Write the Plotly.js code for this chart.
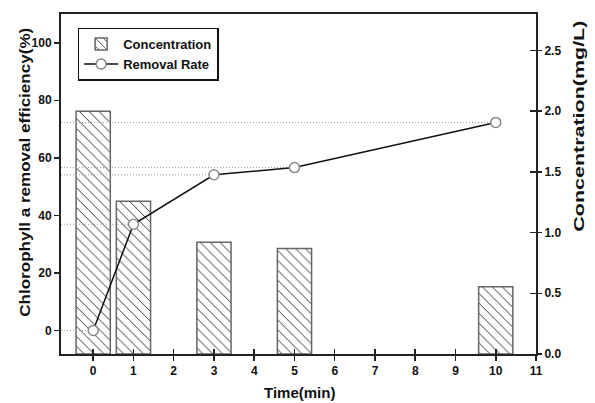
<!DOCTYPE html>
<html>
<head>
<meta charset="utf-8">
<script src="https://cdn.plot.ly/plotly-3.0.1.min.js"></script>
<style>html,body{margin:0;padding:0;background:#fff;}#chart{width:595px;height:403px;}</style>
</head>
<body>
<div id="chart"></div>
<script>
// Data
const times = [0, 1, 3, 5, 10];
const concentration = [2.0, 1.258, 0.921, 0.869, 0.553];      // mg/L (right axis)
const removalRate = [0, 36.9, 54.1, 56.6, 72.3];               // % (left axis)
const xTicks = [0, 1, 2, 3, 4, 5, 6, 7, 8, 9, 10, 11];
const leftTicks = [0, 20, 40, 60, 80, 100];
const rightTicks = [0.0, 0.5, 1.0, 1.5, 2.0, 2.5];

const xRange = [-0.8, 11];
const rightRange = [0, 2.8];
const font = {family: 'Arial, "Liberation Sans", sans-serif', size: 12, color: '#111', weight: 700};

// drop lines from left axis to each removal-rate point
const dropX = [], dropY = [];
times.forEach((t, i) => { dropX.push(xRange[0], t, null); dropY.push(removalRate[i], removalRate[i], null); });

const traces = [
  {
    type: 'bar', name: 'Concentration', x: times, y: concentration,
    xaxis: 'x', yaxis: 'y', width: 0.85,
    marker: {color: '#fff', line: {color: '#666', width: 1.5},
      pattern: {shape: '\\', fgcolor: '#333', bgcolor: '#fff', size: 7, solidity: 0.14}},
    showlegend: true
  },
  {
    type: 'scatter', mode: 'lines', x: dropX, y: dropY, xaxis: 'x', yaxis: 'y2',
    line: {color: '#9a9a9a', width: 1, dash: '1px,2px'}, showlegend: false, hoverinfo: 'skip'
  },
  {
    type: 'scatter', mode: 'lines+markers', name: 'Removal Rate', x: times, y: removalRate,
    xaxis: 'x', yaxis: 'y2',
    line: {color: '#111', width: 1.5},
    marker: {symbol: 'circle', size: 10, color: '#fff', line: {color: '#8a8a8a', width: 1.5}}
  },
  // empty trace that only carries the inner half of the crossing ticks
  {type: 'scatter', mode: 'markers', x: [], y: [], xaxis: 'x2', yaxis: 'y3', showlegend: false, hoverinfo: 'skip'}
];

const tickStyle = {tickwidth: 1.5, tickcolor: '#222', showgrid: false, zeroline: false};

const layout = {
  width: 595, height: 403,
  margin: {l: 61, r: 59, t: 14, b: 49},
  paper_bgcolor: '#fff', plot_bgcolor: '#fff',
  font: font,
  showlegend: true,
  legend: {
    x: 0.035, y: 0.96, xanchor: 'left', yanchor: 'top',
    bgcolor: '#fff', bordercolor: '#111', borderwidth: 1.5,
    font: {family: font.family, size: 13, color: '#111', weight: 700},
    traceorder: 'normal', tracegroupgap: 0, itemwidth: 34
  },
  xaxis: Object.assign({
    range: xRange, tickvals: xTicks, ticktext: xTicks.map(String),
    showline: true, linecolor: '#222', linewidth: 2, mirror: true,
    ticks: 'outside', ticklen: 5, tickfont: font
  }, tickStyle),
  xaxis2: Object.assign({
    overlaying: 'x', anchor: 'y3', range: xRange, tickvals: xTicks,
    showticklabels: false, showline: false, ticks: 'inside', ticklen: 5
  }, tickStyle),
  yaxis: Object.assign({
    side: 'right', range: rightRange, tickvals: rightTicks, ticktext: rightTicks.map(v => v.toFixed(1)),
    showline: true, linecolor: '#222', linewidth: 2,
    ticks: 'outside', ticklen: 4, tickfont: font
  }, tickStyle),
  yaxis2: Object.assign({
    overlaying: 'y', side: 'left', range: [-8.2, 110], tickvals: leftTicks, ticktext: leftTicks.map(String),
    showline: true, linecolor: '#222', linewidth: 2,
    ticks: 'outside', ticklen: 5, tickfont: font
  }, tickStyle),
  yaxis3: Object.assign({
    overlaying: 'y', side: 'right', anchor: 'x2', range: rightRange, tickvals: rightTicks,
    showticklabels: false, showline: false, ticks: 'inside', ticklen: 6
  }, tickStyle),
  annotations: [
    {text: 'Chlorophyll a removal efficiency(%)', xref: 'paper', yref: 'paper', x: -0.078, y: 0.534,
     textangle: -90, showarrow: false, xanchor: 'center', yanchor: 'middle',
     font: {family: font.family, size: 15, color: '#111', weight: 700}},
    {text: 'Concentration(mg/L)', xref: 'paper', yref: 'paper', x: 1.0905, y: 0.6706,
     textangle: -90, showarrow: false, xanchor: 'center', yanchor: 'middle',
     font: {family: font.family, size: 14, color: '#111', weight: 700}},
    {text: 'Time(min)', xref: 'paper', yref: 'paper', x: 0.503, y: -0.1147,
     showarrow: false, xanchor: 'center', yanchor: 'middle',
     font: {family: font.family, size: 15, color: '#111', weight: 700}}
  ]
};

// the reference's rotated titles are drawn longer than their font height suggests
const titleLengths = {'Chlorophyll a removal efficiency(%)': 289, 'Concentration(mg/L)': 211};

Plotly.newPlot('chart', traces, layout, {staticPlot: true, displayModeBar: false}).then(gd => {
  gd.querySelectorAll('.annotation-text').forEach(t => {
    const len = titleLengths[t.textContent];
    if (len) { t.setAttribute('textLength', len); t.setAttribute('lengthAdjust', 'spacingAndGlyphs'); }
  });
});
</script>
</body>
</html>
